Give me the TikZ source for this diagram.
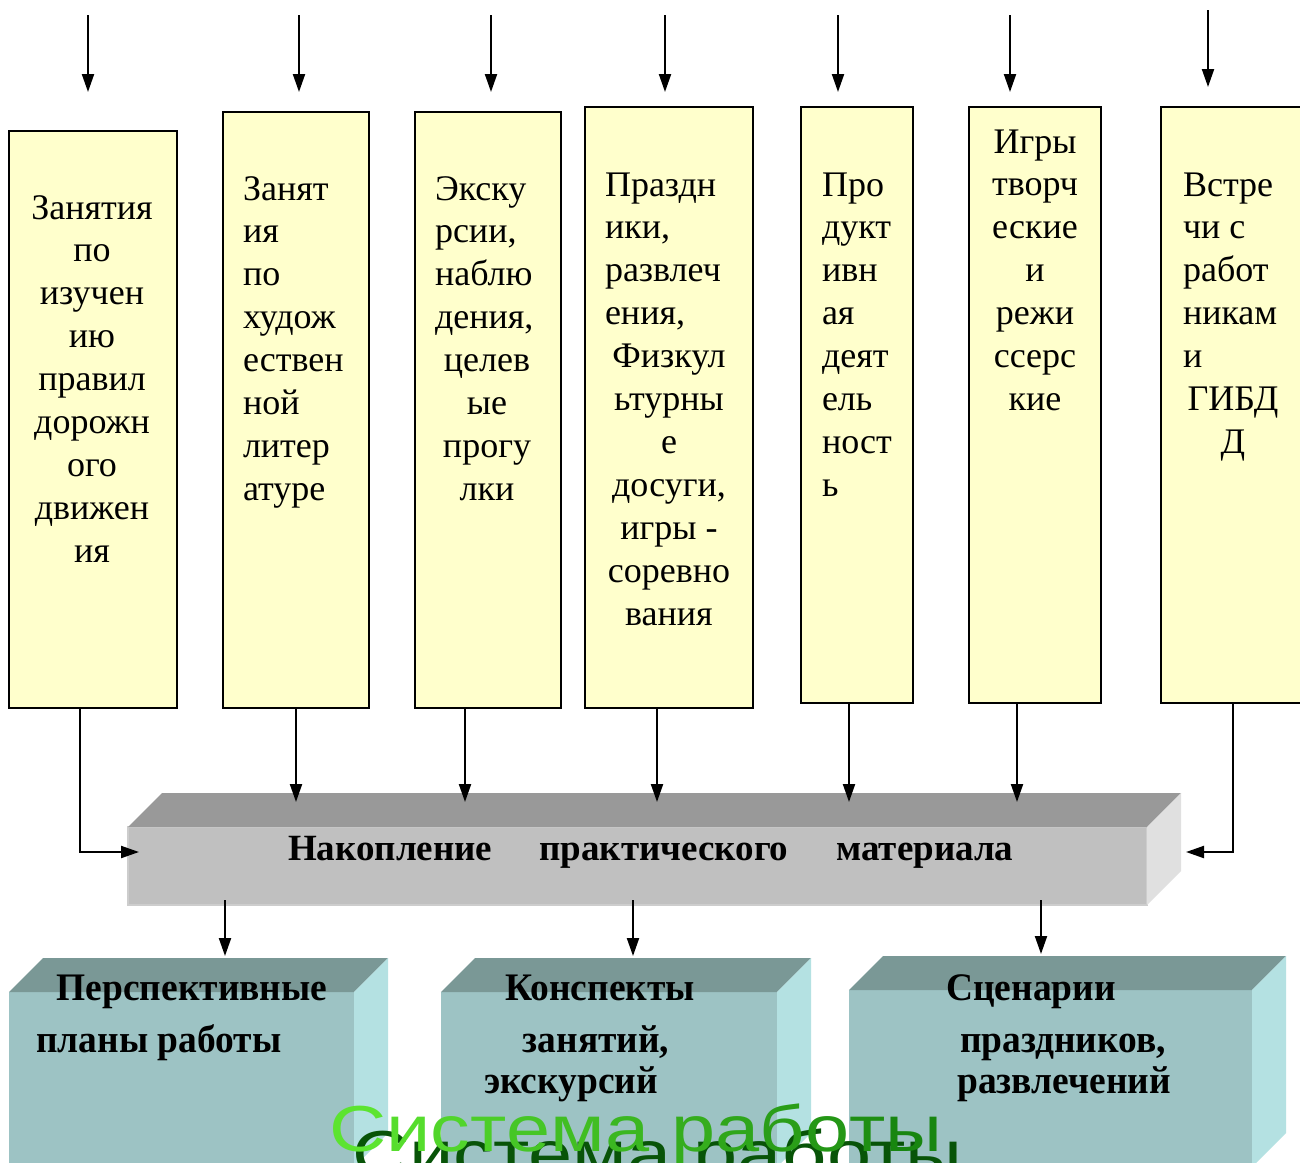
\documentclass[tikz,border=0pt]{standalone}
\usepackage{fontspec}
\setmainfont{Liberation Serif}
\newfontfamily\lsans{Liberation Sans}
\usetikzlibrary{arrows.meta,calc}
\definecolor{colY}{RGB}{255,255,204}
\definecolor{barTop}{RGB}{153,153,153}
\definecolor{barFront}{RGB}{192,192,192}
\definecolor{barEdge}{RGB}{205,205,205}
\definecolor{barSide}{RGB}{224,224,224}
\definecolor{boxTop}{RGB}{122,152,150}
\definecolor{boxFront}{RGB}{157,195,196}
\definecolor{boxSide}{RGB}{180,225,226}
\definecolor{gL}{RGB}{92,228,48}
\definecolor{gD}{RGB}{24,134,16}
\definecolor{gShadow}{RGB}{8,84,8}
\newcommand\gl[2]{\textcolor{gD!#1!gL}{#2}}
\newcommand\cond[1]{\scalebox{0.96}[1]{#1}}
\begin{document}
\begin{tikzpicture}[x=1pt,y=-1pt,
  colbox/.style={draw, line width=1.8pt, fill=colY, inner sep=0pt, outer sep=0pt},
  coltext/.style={anchor=base, inner sep=0pt, font=\fontsize{36}{42.9}\selectfont},
  arr/.style={-{Triangle[length=18pt,width=12pt]}, line width=2.1pt},
  face/.style={inner sep=0pt, outer sep=0pt},
  boxtext/.style={anchor=base, inner sep=0pt, font=\fontsize{39}{45}\selectfont\bfseries},
  bartext/.style={anchor=base west, inner sep=0pt, font=\fontsize{37}{42}\selectfont\bfseries}]
\clip (0,0) rectangle (1300,1162);
\fill[white] (0,0) rectangle (1300,1162);

% ---------- columns ----------
\node[colbox, minimum width=168pt, minimum height=577pt] (c1) at (93,419.5) {};
\node[colbox, minimum width=146pt, minimum height=596pt] (c2) at (296,410) {};
\node[colbox, minimum width=146pt, minimum height=596pt] (c3) at (488,410) {};
\node[colbox, minimum width=168pt, minimum height=601pt] (c4) at (669,407.5) {};
\node[colbox, minimum width=112pt, minimum height=596pt] (c5) at (857,405) {};
\node[colbox, minimum width=132pt, minimum height=596pt] (c6) at (1035,405) {};
\node[colbox, minimum width=151pt, minimum height=596pt] (c7) at (1236.5,405) {};

\node[coltext] (t1) at (92,219) {\parbox[t]{150pt}{\centering Занятия\\по\\изучен\\ию\\правил\\дорожн\\ого\\движен\\ия}};
\node[coltext] (t2) at (296,200) {\parbox[t]{106pt}{\raggedright Занят\\ия\\по\\худож\\ествен\\ной\\литер\\атуре}};
\node[coltext] (t3) at (487,200) {\parbox[t]{104pt}{\raggedright Экску\\рсии,\\наблю\\дения,\\\makebox[\linewidth]{целев}\\\makebox[\linewidth]{ые}\\\makebox[\linewidth]{прогу}\\\makebox[\linewidth]{лки}}};
\node[coltext] (t4) at (669,196) {\parbox[t]{128pt}{\raggedright Праздн\\ики,\\развлеч\\ения,\\\makebox[\linewidth]{Физкул}\\\makebox[\linewidth]{ьтурны}\\\makebox[\linewidth]{е}\\\makebox[\linewidth]{досуги,}\\\makebox[\linewidth]{игры -}\\\makebox[\linewidth]{соревно}\\\makebox[\linewidth]{вания}}};
\node[coltext] (t5) at (867,196) {\parbox[t]{90pt}{\raggedright Про\\дукт\\ивн\\ая\\деят\\ель\\ност\\ь}};
\node[coltext] (t6) at (1035,153) {\parbox[t]{120pt}{\centering Игры\\творч\\еские\\и\\режи\\ссерс\\кие}};
\node[coltext] (t7) at (1233,196) {\parbox[t]{100pt}{\raggedright Встре\\чи с\\работ\\никам\\и\\\makebox[\linewidth]{ГИБД}\\\makebox[\linewidth]{Д}}};

% ---------- top arrows ----------
\foreach \i/\x/\ya/\yb in {1/88/15/92, 2/299/15/92, 3/491/15/92, 4/665/15/92, 5/838/15/92, 6/1010/15/92, 7/1208/10/87} {
  \coordinate (s\i) at (\x,\ya);
  \coordinate (e\i) at (\x,\yb);
  \draw[arr] (s\i) -- (e\i);
}

% ---------- bar ----------
\node[face, fill=barFront, draw=barEdge, line width=1.5pt, minimum width=1019pt, minimum height=78pt] (bar) at (637.5,866) {};
\fill[barTop] (bar.north west) -- ++(34,-34) -- ($(bar.north east)+(34,-34)$) -- (bar.north east) -- cycle;
\fill[barSide] (bar.north east) -- ++(34,-34) -- ($(bar.south east)+(34,-34)$) -- (bar.south east) -- cycle;
\node[bartext] (bt) at (288,860) {Накопление\hspace{47pt}практического\hspace{48pt}материала};

\coordinate (bartop) at (0,802);
\coordinate (barL) at (139,852);
\coordinate (barR) at (1186,852);
\draw[arr] ([xshift=-13pt]c1.south) |- (barL);
\draw[arr] (c2.south) -- (c2.south |- bartop);
\draw[arr] ([xshift=-23pt]c3.south) -- ([xshift=-23pt]c3.south |- bartop);
\draw[arr] ([xshift=-12pt]c4.south) -- ([xshift=-12pt]c4.south |- bartop);
\draw[arr] ([xshift=-8pt]c5.south) -- ([xshift=-8pt]c5.south |- bartop);
\draw[arr] ([xshift=-18pt]c6.south) -- ([xshift=-18pt]c6.south |- bartop);
\draw[arr] ([xshift=-3.5pt]c7.south) |- (barR);

% ---------- bottom boxes ----------
\node[face, fill=boxFront, minimum width=345pt, minimum height=175pt] (b1) at (181.5,1079.5) {};
\node[face, fill=boxFront, minimum width=336pt, minimum height=175pt] (b2) at (609,1079.5) {};
\node[face, fill=boxFront, minimum width=403pt, minimum height=177pt] (b3) at (1050.5,1078.5) {};
\foreach \b in {b1,b2,b3} {
  \fill[boxTop] (\b.north west) -- ++(34,-34) -- ($(\b.north east)+(34,-34)$) -- (\b.north east) -- cycle;
  \fill[boxSide] (\b.north east) -- ++(34,-34) -- ($(\b.south east)+(34,-34)$) -- (\b.south east) -- cycle;
}

\node[boxtext] (p1) at (192,1000) {\cond{Перспективные}};
\node[boxtext, anchor=base west] (p2) at (36,1052) {\cond{планы работы}};
\node[boxtext] (k1) at (600,1000) {\cond{Конспекты}};
\node[boxtext] (k2) at (596,1052) {\cond{занятий,}};
\node[boxtext] (k3) at (571,1093) {\cond{экскурсий}};
\node[boxtext] (s1) at (1031,1000) {\cond{Сценарии}};
\node[boxtext] (s2) at (1063,1052) {\cond{праздников,}};
\node[boxtext] (s3) at (1064,1093) {\cond{развлечений}};

\coordinate (o1) at (225,900);
\coordinate (o2) at (633,900);
\coordinate (o3) at (1041,900);
\coordinate (tipA) at (0,956);
\coordinate (tipB) at (0,954);
\draw[arr] (o1) -- (o1 |- tipA);
\draw[arr] (o2) -- (o2 |- tipA);
\draw[arr] (o3) -- (o3 |- tipB);

% ---------- title ----------
\node[anchor=base west, inner sep=0pt] (shadow) at (352,1176) {\scalebox{1.22}[1]{\fontsize{65}{70}\lsans\color{gShadow}Система работы}};
\node[anchor=base west, inner sep=0pt] (title) at (329,1151) {\scalebox{1.22}[1]{\fontsize{65}{70}\lsans\gl{0}{С}\gl{8}{и}\gl{16}{с}\gl{24}{т}\gl{32}{е}\gl{40}{м}\gl{48}{а} \gl{58}{р}\gl{66}{а}\gl{74}{б}\gl{82}{о}\gl{90}{т}\gl{100}{ы}}};
\end{tikzpicture}
\end{document}
